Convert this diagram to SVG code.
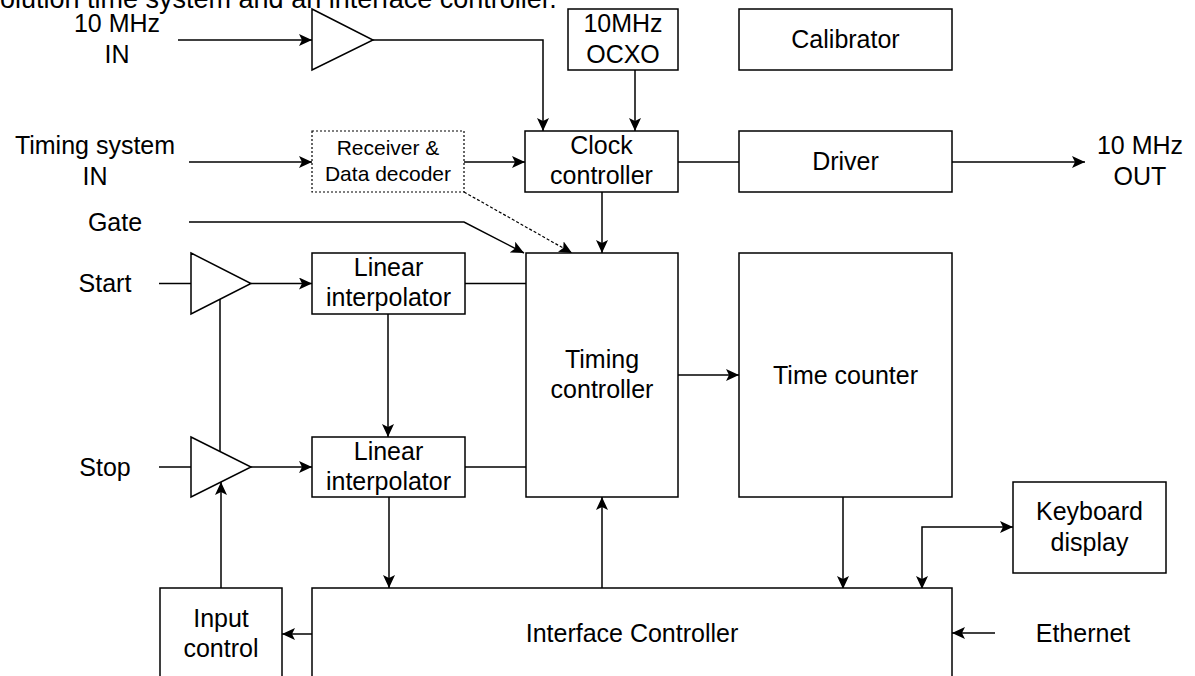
<svg xmlns="http://www.w3.org/2000/svg" width="1195" height="676" viewBox="0 0 1195 676">
<style>
text{font-family:"Liberation Sans",Arial,Helvetica,sans-serif;font-size:25px;fill:#000;text-anchor:middle}
.box{fill:#fff;stroke:#000;stroke-width:1.5}
.dot{fill:#fff;stroke:#000;stroke-width:1.2;stroke-dasharray:2,2}
.amp{fill:#fff;stroke:#000;stroke-width:1.5;stroke-linejoin:miter}
.ln{fill:none;stroke:#000;stroke-width:1.5}
.dl{fill:none;stroke:#000;stroke-width:1.2;stroke-dasharray:3,2}
.ar{marker-end:url(#ah)}
.small{font-size:21px}
.cap{font-size:27px;text-anchor:start}
</style>
<defs>
<marker id="ah" markerUnits="userSpaceOnUse" markerWidth="13" markerHeight="12" refX="13" refY="6" orient="auto-start-reverse">
<path d="M0,0 L13,6 L0,12 L3,6 z" fill="#000"/>
</marker>
</defs>
<rect width="1195" height="676" fill="#fff"/>
<text class="cap" x="0" y="8">olution time system and an interface controller.</text>

<g id="connectors">
<path class="ln ar" d="M178,40 H312"/>
<path class="ln ar" d="M373,40 H543 V131"/>
<path class="ln ar" d="M635,70 V131"/>
<path class="ln ar" d="M189,162 H312"/>
<path class="ln ar" d="M464,162 H525"/>
<path class="ln" d="M678,162 H739"/>
<path class="ln ar" d="M952,162 H1085"/>
<path class="ln ar" d="M602,192 V253"/>
<path class="ln ar" d="M189,222 H464 L524,253"/>
<path class="dl ar" d="M464,192 L572,253"/>
<path class="ln" d="M159,283.5 H191"/>
<path class="ln" d="M159,467 H191"/>
<path class="ln ar" d="M251,283.5 H312"/>
<path class="ln ar" d="M251,467 H312"/>
<path class="ln" d="M465,283.5 H526"/>
<path class="ln" d="M465,467 H526"/>
<path class="ln" d="M220,299 V452"/>
<path class="ln ar" d="M388,314 V437"/>
<path class="ln ar" d="M678,375 H739"/>
<path class="ln ar" d="M389,497 V588"/>
<path class="ln ar" d="M602,588 V497"/>
<path class="ln ar" d="M221,588 V482"/>
<path class="ln ar" d="M843,497 V589"/>
<path class="ln ar" d="M922,589 V527 H1013" style="marker-start:url(#ah)"/>
<path class="ln ar" d="M312,634 H282"/>
<path class="ln ar" d="M995,633 H952"/>
</g>

<g id="label-10mhz-in"><text x="117" y="32">10 MHz</text><text x="117" y="63">IN</text></g>
<g id="amp-10mhz"><polygon class="amp" points="312,9 373,40 312,70"/></g>
<g id="ocxo"><rect class="box" x="568" y="9" width="110" height="61"/><text x="623" y="32">10MHz</text><text x="623" y="63">OCXO</text></g>
<g id="calibrator"><rect class="box" x="739" y="9" width="213" height="61"/><text x="845.5" y="48">Calibrator</text></g>
<g id="label-timing-in"><text x="95" y="154">Timing system</text><text x="95" y="185">IN</text></g>
<g id="receiver"><rect class="dot" x="312" y="131" width="152" height="61"/><text class="small" x="388" y="155">Receiver &amp;</text><text class="small" x="388" y="181">Data decoder</text></g>
<g id="clock-controller"><rect class="box" x="525" y="131" width="153" height="61"/><text x="601.5" y="154">Clock</text><text x="601.5" y="184">controller</text></g>
<g id="driver"><rect class="box" x="739" y="131" width="213" height="61"/><text x="845.5" y="170">Driver</text></g>
<g id="label-10mhz-out"><text x="1140" y="154">10 MHz</text><text x="1140" y="185">OUT</text></g>
<g id="label-gate"><text x="115" y="231">Gate</text></g>
<g id="label-start"><text x="105" y="292">Start</text></g>
<g id="amp-start"><polygon class="amp" points="191,253 251,283.5 191,314"/></g>
<g id="interp-1"><rect class="box" x="312" y="253" width="153" height="61"/><text x="388.5" y="276">Linear</text><text x="388.5" y="306">interpolator</text></g>
<g id="label-stop"><text x="105" y="476">Stop</text></g>
<g id="amp-stop"><polygon class="amp" points="191,437 251,467 191,497"/></g>
<g id="interp-2"><rect class="box" x="312" y="437" width="153" height="60"/><text x="388.5" y="460">Linear</text><text x="388.5" y="490">interpolator</text></g>
<g id="timing-controller"><rect class="box" x="526" y="253" width="152" height="244"/><text x="602" y="368">Timing</text><text x="602" y="398">controller</text></g>
<g id="time-counter"><rect class="box" x="739" y="253" width="213" height="244"/><text x="845.5" y="384">Time counter</text></g>
<g id="keyboard"><rect class="box" x="1013" y="482" width="153" height="91"/><text x="1089.5" y="520">Keyboard</text><text x="1089.5" y="551">display</text></g>
<g id="input-control"><rect class="box" x="160" y="588" width="122" height="100"/><text x="221" y="627">Input</text><text x="221" y="657">control</text></g>
<g id="interface-controller"><rect class="box" x="312" y="588" width="640" height="100"/><text x="632" y="642">Interface Controller</text></g>
<g id="label-ethernet"><text x="1083" y="642">Ethernet</text></g>
</svg>
